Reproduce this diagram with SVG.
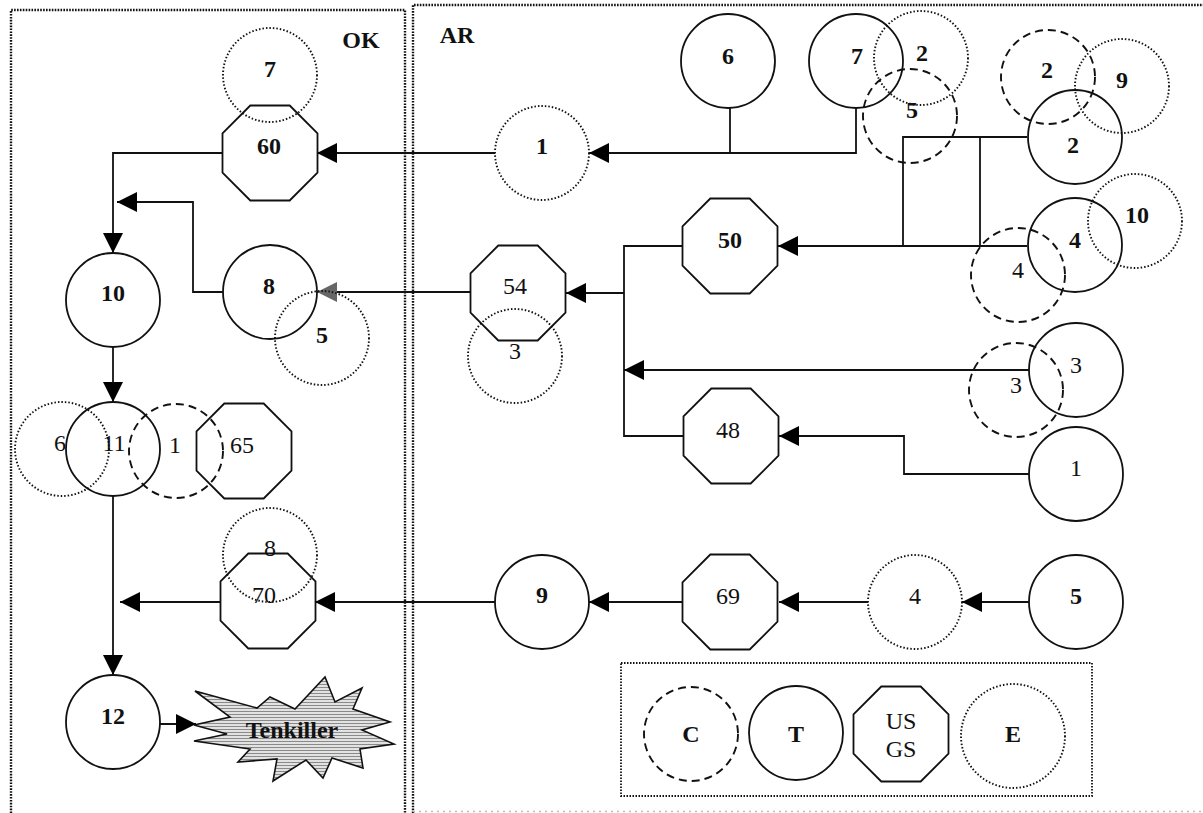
<svg xmlns="http://www.w3.org/2000/svg" xmlns:xlink="http://www.w3.org/1999/xlink" width="1203" height="813" viewBox="0 0 1203 813">
  <style>
    text { font-family: "Liberation Serif", "Times New Roman", serif; font-size: 24px; text-anchor: middle; fill: #111; }
    .b { font-weight: bold; }
    .t { fill: none; stroke: #111; stroke-width: 1.8; }
    .c { fill: none; stroke: #111; stroke-width: 1.9; stroke-dasharray: 8 5; }
    .e { fill: none; stroke: #111; stroke-width: 1.9; stroke-dasharray: 1.5 2; }
    .u { fill: none; stroke: #111; stroke-width: 1.8; }
    .frame { fill: none; stroke: #111; stroke-width: 2.4; stroke-dasharray: 1.6 1.3; }
    .wire { fill: none; stroke: #111; stroke-width: 1.8; }
    .wa { fill: none; stroke: #111; stroke-width: 1.8; marker-end: url(#arr); }
    .wg { fill: none; stroke: #111; stroke-width: 1.8; marker-end: url(#arrg); }
  </style>
  <defs>
    <marker id="arr" markerUnits="userSpaceOnUse" markerWidth="20" markerHeight="20" viewBox="0 0 20 20" refX="20" refY="10" orient="auto">
      <path d="M0,0 L20,10 L0,20 Z" fill="#000"/>
    </marker>
    <marker id="arrg" markerUnits="userSpaceOnUse" markerWidth="20" markerHeight="20" viewBox="0 0 20 20" refX="20" refY="10" orient="auto">
      <path d="M0,0 L20,10 L0,20 Z" fill="#666"/>
    </marker>
    <!-- regular octagon used for gauging stations -->
    <polygon id="oct" points="-19.7,-47.5 19.7,-47.5 47.5,-19.7 47.5,19.7 19.7,47.5 -19.7,47.5 -47.5,19.7 -47.5,-19.7"/>
    <pattern id="hatch" width="4" height="3" patternUnits="userSpaceOnUse">
      <rect width="4" height="3" fill="#e2e2e2"/>
      <rect width="4" height="1" fill="#8a8a8a"/>
    </pattern>
  </defs>

  <rect width="1203" height="813" fill="#fff"/>

  <!-- state regions -->
  <g id="region-ok">
    <path class="frame" d="M11,816 V10 H405 V816"/>
    <text class="b" x="361" y="48">OK</text>
  </g>
  <g id="region-ar">
    <path class="frame" d="M413,816 V5 H1205"/>
    <path d="M413,811.5 H1203" fill="none" stroke="#bbb" stroke-width="1.5" stroke-dasharray="2 4"/>
    <text class="b" x="457" y="43">AR</text>
  </g>

  <!-- connectors -->
  <g id="connectors">
    <path class="wa" d="M495,153 H317"/>
    <path class="wire" d="M730,108 V153"/>
    <path class="wa" d="M856,108 V153 H589"/>
    <path class="wire" d="M1027,137 H903 V246"/>
    <path class="wire" d="M980,137 V246"/>
    <path class="wa" d="M1027,246 H778"/>
    <path class="wire" d="M683,246 H624 V436 H683"/>
    <path class="wa" d="M624,293 H566"/>
    <path class="wa" d="M1029,370 H624"/>
    <path class="wa" d="M1029,474 H904 V436 H779"/>
    <path class="wg" d="M471,292 H317"/>
    <path class="wa" d="M222,153 H113 V253"/>
    <path class="wa" d="M223,292 H193 V202 H117"/>
    <path class="wa" d="M113,347 V402"/>
    <path class="wa" d="M113,496 V675"/>
    <path class="wa" d="M160,724 H196"/>
    <path class="wa" d="M220,602 H120"/>
    <path class="wa" d="M495,602 H315"/>
    <path class="wa" d="M683,602 H589"/>
    <path class="wa" d="M868,602 H779"/>
    <path class="wa" d="M1029,602 H962"/>
  </g>

  <!-- Oklahoma nodes -->
  <g id="e7-ok"><circle class="e" cx="270" cy="75" r="47"/><text class="b" x="270" y="77">7</text></g>
  <g id="usgs60"><use href="#oct" class="u" x="270" y="153"/><text class="b" x="269" y="154">60</text></g>
  <g id="t10"><circle class="t" cx="113" cy="300" r="47"/><text class="b" x="113" y="301">10</text></g>
  <g id="t8"><circle class="t" cx="270" cy="292" r="47"/><text class="b" x="269" y="294">8</text></g>
  <g id="e5-ok"><circle class="e" cx="322" cy="338" r="47"/><text class="b" x="322" y="343">5</text></g>
  <g id="e6"><circle class="e" cx="62" cy="449" r="47"/><text x="60" y="451">6</text></g>
  <g id="t11"><circle class="t" cx="113" cy="449" r="47"/><text x="114" y="451">11</text></g>
  <g id="c1"><circle class="c" cx="176" cy="451" r="47"/><text x="175" y="453">1</text></g>
  <g id="usgs65"><use href="#oct" class="u" x="244" y="451"/><text x="242" y="453">65</text></g>
  <g id="e8"><circle class="e" cx="270" cy="555" r="47"/><text x="270" y="556">8</text></g>
  <g id="usgs70"><use href="#oct" class="u" x="268" y="601"/><text x="264" y="603">70</text></g>
  <g id="t12"><circle class="t" cx="113" cy="722" r="47"/><text class="b" x="113" y="724">12</text></g>
  <g id="tenkiller">
    <polygon points="195,691 257,708 270,697 295,709 325,677 335,702 362,688 353,709 390,722 362,730 394,744 360,749 363,768 332,758 323,778 306,760 273,781 277,759 238,762 250,749 194,741 227,734 194,725 230,717" fill="url(#hatch)" stroke="#111" stroke-width="1.6" stroke-linejoin="miter"/>
    <text class="b" x="292" y="738" style="font-size:24px">Tenkiller</text>
  </g>

  <!-- Arkansas nodes -->
  <g id="e1-ar"><circle class="e" cx="542" cy="153" r="47"/><text class="b" x="542" y="154">1</text></g>
  <g id="t6"><circle class="t" cx="728" cy="61" r="47"/><text class="b" x="728" y="64">6</text></g>
  <g id="t7"><circle class="t" cx="856" cy="61" r="47"/><text class="b" x="857" y="64">7</text></g>
  <g id="e2"><circle class="e" cx="921" cy="58" r="47"/><text class="b" x="922" y="61">2</text></g>
  <g id="c5"><circle class="c" cx="910" cy="116" r="47"/><text class="b" x="912" y="118">5</text></g>
  <g id="c2"><circle class="c" cx="1048" cy="77" r="47"/><text class="b" x="1047" y="78">2</text></g>
  <g id="e9"><circle class="e" cx="1122" cy="86" r="47"/><text class="b" x="1122" y="88">9</text></g>
  <g id="t2"><circle class="t" cx="1075" cy="137" r="47"/><text class="b" x="1073" y="153">2</text></g>
  <g id="e10"><circle class="e" cx="1135" cy="221" r="47"/><text class="b" x="1137" y="223">10</text></g>
  <g id="t4"><circle class="t" cx="1075" cy="245" r="47"/><text class="b" x="1075" y="248">4</text></g>
  <g id="c4"><circle class="c" cx="1018" cy="275" r="47"/><text x="1018" y="278">4</text></g>
  <g id="usgs50"><use href="#oct" class="u" x="730" y="246"/><text class="b" x="730" y="248">50</text></g>
  <g id="usgs54"><use href="#oct" class="u" x="518" y="293"/><text x="515" y="294">54</text></g>
  <g id="e3"><circle class="e" cx="515" cy="356" r="47"/><text x="515" y="359">3</text></g>
  <g id="t3"><circle class="t" cx="1076" cy="370" r="47"/><text x="1076" y="373">3</text></g>
  <g id="c3"><circle class="c" cx="1016" cy="390" r="47"/><text x="1016" y="393">3</text></g>
  <g id="usgs48"><use href="#oct" class="u" x="731" y="436"/><text x="728" y="438">48</text></g>
  <g id="t1"><circle class="t" cx="1076" cy="474" r="47"/><text x="1076" y="476">1</text></g>
  <g id="t9"><circle class="t" cx="542" cy="602" r="47"/><text class="b" x="542" y="603">9</text></g>
  <g id="usgs69"><use href="#oct" class="u" x="730" y="602"/><text x="728" y="604">69</text></g>
  <g id="e4"><circle class="e" cx="915" cy="602" r="47"/><text x="915" y="604">4</text></g>
  <g id="t5"><circle class="t" cx="1076" cy="602" r="47"/><text class="b" x="1076" y="604">5</text></g>

  <!-- legend -->
  <g id="legend">
    <rect x="621" y="663" width="471" height="133" fill="none" stroke="#111" stroke-width="1.8" stroke-dasharray="1.5 1.5"/>
    <circle class="c" cx="691" cy="734" r="47"/><text class="b" x="691" y="742">C</text>
    <circle class="t" cx="796" cy="733" r="47"/><text class="b" x="796" y="742">T</text>
    <use href="#oct" class="u" x="901" y="734"/>
    <text x="901" y="729">US</text><text x="901" y="757">GS</text>
    <circle class="e" cx="1013" cy="736" r="52"/><text class="b" x="1013" y="742">E</text>
  </g>
</svg>
